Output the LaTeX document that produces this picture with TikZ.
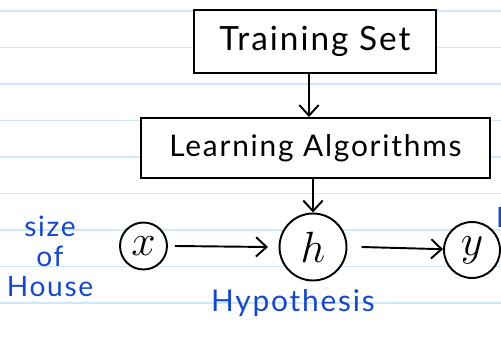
\documentclass[tikz,border=0pt]{standalone}
\usepackage{fontspec}
\newfontfamily\hand[LetterSpace=6]{Lato}
\definecolor{inkblue}{RGB}{22, 72, 200}
\definecolor{ruleblue}{RGB}{205, 232, 250}
\usetikzlibrary{arrows.meta, positioning}

\begin{document}
\begin{tikzpicture}[x=0.02cm, y=-0.02cm,
  box/.style={draw, line width=1.1pt, inner sep=0pt, fill=white},
  var/.style={draw, circle, line width=1.1pt, inner sep=0pt, fill=white,
              font=\fontsize{24}{26}\selectfont},
  note/.style={text=inkblue, align=center, font=\hand\fontsize{16}{17}\selectfont},
  flow/.style={-{Straight Barb[length=6pt, width=11pt]}, line width=1.1pt},
]
\useasboundingbox (0, 0) rectangle (501, 338);
\clip (0, 0) rectangle (501, 338);

% Ruled paper
\foreach \y in {11, 47.5, 84, 120.5, 157, 193.5, 230, 266.5, 303} {
  \draw[ruleblue, line width=0.8pt] (0, \y) -- (501, \y);
}

% Boxes
\node[box, minimum width=4.84cm, minimum height=1.26cm,
      font=\hand\fontsize{19}{20}\selectfont] (train) at (315, 41.5) {Training Set};
\node[box, minimum width=6.98cm, minimum height=1.2cm,
      font=\hand\fontsize{17}{18}\selectfont] (learn) at (315.5, 148) {Learning Algorithms};

\draw[flow] (train.south -| 309, 0) -- (learn.north -| 309, 0);

% Model
\node[var, minimum size=0.94cm] (x) at (143.5, 246) {$x$};
\node[var, minimum size=1.34cm] (h) at (313, 247) {$h$};
\node[var, minimum size=1.12cm] (y) at (472, 250) {$y$};

\draw[flow] (learn.south -| h) -- (h);
\draw[flow] ([xshift=4pt]x.east) -- ([xshift=-6pt]h.west);
\draw[flow] ([xshift=8pt]h.east) -- (y);

% Notes
\node[note] (size) at (50, 256) {size\\of\\House};
\node[note, font=\hand\fontsize{17}{17}\selectfont] (hyp) at (293, 303) {Hypothesis};
\node[note, anchor=west] (pred) at (490, 217) {P};
\end{tikzpicture}
\end{document}
